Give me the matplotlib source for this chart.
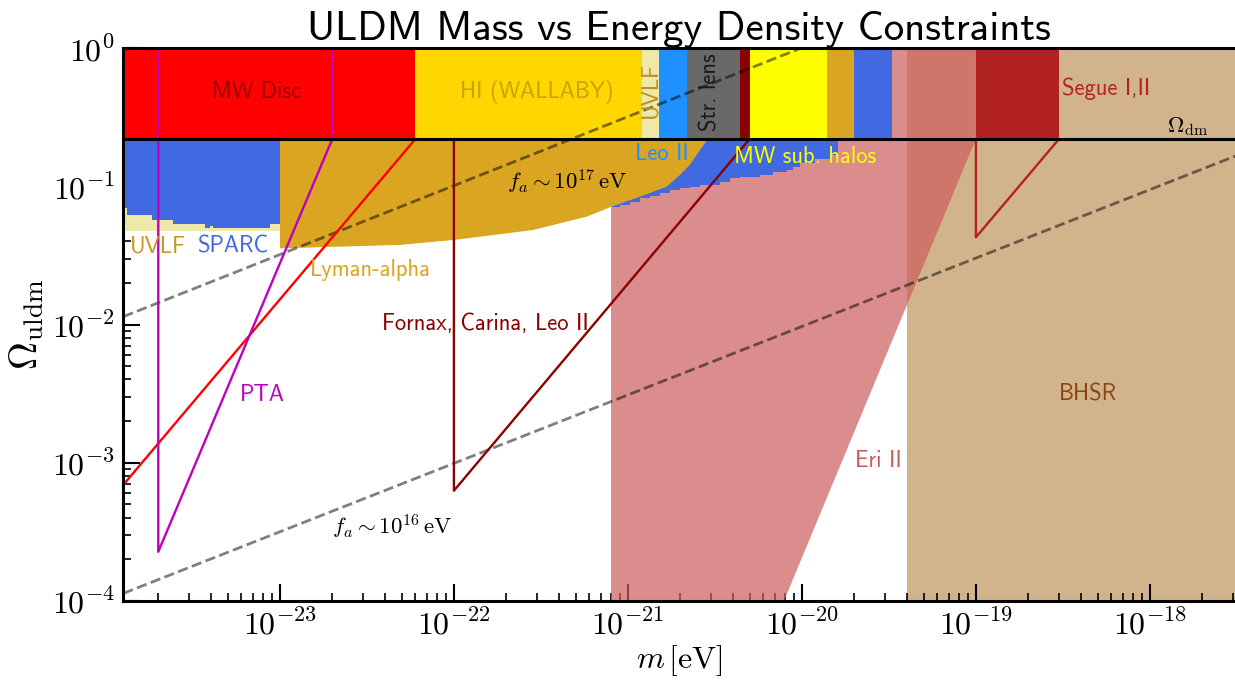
import numpy as np
import matplotlib.pyplot as plt
from matplotlib.ticker import FuncFormatter, FixedLocator, LogLocator, NullFormatter

plt.rcParams['font.family'] = ['cmss10', 'DejaVu Sans']
plt.rcParams['mathtext.fontset'] = 'cm'
plt.rcParams['axes.unicode_minus'] = False
plt.rcParams['axes.formatter.use_mathtext'] = True

m_min, m_max = 10**-23.9, 10**-17.511
om_min, om_max = 1e-4, 1.0
om_dm = 0.22

x_ticks = [1e-23, 1e-22, 1e-21, 1e-20, 1e-19, 1e-18]
y_ticks = [1e-4, 1e-3, 1e-2, 1e-1, 1e0]

# bands above Omega_dm
band_edges = [m_min, 6e-23, 1.2e-21, 1.5e-21, 2.2e-21, 4.4e-21, 5e-21, 1.4e-20, 2.0e-20, 3.3e-20]
band_colors = ['red', 'gold', 'palegoldenrod', 'dodgerblue', 'dimgray', 'darkred',
               'yellow', 'goldenrod', 'royalblue']
segue_band = [1e-19, 3e-19]

# SPARC (staircase) and UVLF below it
sparc_m = [m_min, 1.32e-24, 1.83e-24, 2.44e-24, 3.71e-24, 3.96e-24, 4.12e-24, 8.77e-24, 1e-23]
sparc_om = [0.0693, 0.0621, 0.0571, 0.0535, 0.0499, 0.0519, 0.0498, 0.0532, 0.0532]
uvlf_m = [m_min, 1e-23]
uvlf_om = 0.0478

# Lyman-alpha lower boundary
lya_m = [1e-23, 4.9e-23, 9.9e-23, 2.84e-22, 5.8e-22, 8.05e-22, 1.17e-21, 1.67e-21,
         1.99e-21, 2.27e-21, 2.48e-21, 2.88e-21]
lya_om = [0.0356, 0.0377, 0.0409, 0.0483, 0.0604, 0.0713, 0.0841, 0.0995,
          0.121, 0.143, 0.169, 0.22]

# Leo II / MW sub. halos lower boundary (staircase)
sub_m = [8.05e-22, 8.99e-22, 1.026e-21, 1.17e-21, 1.34e-21, 1.53e-21, 1.74e-21, 1.99e-21,
         2.27e-21, 2.59e-21, 3.38e-21, 3.86e-21, 4.41e-21, 5.74e-21, 6.81e-21, 8.16e-21,
         8.87e-21, 9.75e-21, 1.19e-20, 1.45e-20, 1.61e-20]
sub_om = [0.0713, 0.0733, 0.0774, 0.082, 0.0857, 0.0891, 0.0942, 0.0969,
          0.0995, 0.102, 0.108, 0.1146, 0.1175, 0.121, 0.1265, 0.1315,
          0.139, 0.147, 0.158, 0.169, 0.22]

# Eri II polygon
eri_m = [8e-22, 7.9e-21, 1e-19, 1e-19, 8e-22]
eri_om = [1e-4, 1e-4, 0.22, 1.0, 1.0]

# BHSR
bhsr_m = [4e-20, m_max]

# line constraints
pta_m = [2e-24, 2e-24, 2e-23, 2e-23]
pta_om = [1.0, 2.26e-4, 0.22, 1.0]
disc_m = [m_min, 6e-23]
disc_om = [6.9e-4, 0.22]
fcl_m = [1e-22, 1e-22, 5e-21]
fcl_om = [0.22, 6.26e-4, 0.22]
segue_m = [1e-19, 1e-19, 3e-19]
segue_om = [0.22, 0.0428, 0.22]

# f_a lines
fa17_m = [m_min, 9.8e-21]
fa17_om = [0.0114, 1.0]
fa16_m = [m_min, m_max]
fa16_om = [1.13e-4, 0.1655]

fig = plt.figure(figsize=(12.35, 6.8), dpi=100)
ax = fig.add_axes([123.3 / 1235, 1 - 600.7 / 680, (1235 - 123.3) / 1235, (600.7 - 48.3) / 680])
ax.set_xscale('log')
ax.set_yscale('log')
ax.set_xlim(m_min, m_max)
ax.set_ylim(om_min, om_max)

ax.fill_between(bhsr_m, om_min, om_max, color='tan', lw=0, zorder=1)
ax.fill(eri_m, eri_om, color='indianred', alpha=0.7, lw=0, zorder=2)
ax.fill_between(sub_m, sub_om, om_dm, step='post', color='royalblue', lw=0, zorder=3)
ax.fill([1e-23] + lya_m, [om_dm] + lya_om, color='goldenrod', lw=0, zorder=4)
ax.fill_between(uvlf_m, uvlf_om, om_dm, color='palegoldenrod', lw=0, zorder=4)
ax.fill_between(sparc_m, sparc_om, om_dm, step='post', color='royalblue', lw=0, zorder=5)

for i in range(len(band_colors)):
    ax.fill_between(band_edges[i:i + 2], om_dm, om_max, color=band_colors[i], lw=0, zorder=6)
ax.fill_between(segue_band, om_dm, om_max, color='firebrick', lw=0, zorder=6)

ax.plot(fa17_m, fa17_om, '--', color='k', alpha=0.5, lw=2, zorder=7)
ax.plot(fa16_m, fa16_om, '--', color='k', alpha=0.5, lw=2, zorder=7)

ax.plot(disc_m, disc_om, color='red', lw=1.7, zorder=8)
ax.plot(pta_m, pta_om, color='m', lw=1.7, zorder=8)
ax.plot(fcl_m, fcl_om, color='darkred', lw=1.7, zorder=8)
ax.plot(segue_m, segue_om, color='firebrick', lw=1.7, zorder=8)

ax.axhline(om_dm, color='k', lw=2.2, zorder=9)

fs = 16.3
ax.text(7.3e-24, 0.483, 'MW Disc', color='#990000', fontsize=fs, ha='center', va='center', zorder=10)
ax.text(3.0e-22, 0.483, 'HI (WALLABY)', color='#CDA00A', fontsize=fs, ha='center', va='center', zorder=10)
ax.text(1.34e-21, 0.5, 'UVLF', color='#C09020', fontsize=fs, ha='center', va='center', rotation=90, zorder=10)
ax.text(3.0e-21, 0.48, 'Str. lens', color='#1a1a1a', fontsize=fs, ha='center', va='center', rotation=90, zorder=10)
ax.text(1.57e-21, 0.172, 'Leo II', color='dodgerblue', fontsize=fs, ha='center', va='center', zorder=10)
ax.text(1.04e-20, 0.163, 'MW sub. halos', color='yellow', fontsize=fs, ha='center', va='center', zorder=10)
ax.text(3.12e-19, 0.507, 'Segue I,II', color='firebrick', fontsize=fs, ha='left', va='center', zorder=10)
ax.text(1.65e-18, 0.269, r'$\Omega_{\rm dm}$', color='k', fontsize=fs, ha='center', va='center', zorder=10)
ax.text(1.99e-24, 0.0366, 'UVLF', color='#C8962A', fontsize=fs, ha='center', va='center', zorder=10)
ax.text(5.37e-24, 0.0366, 'SPARC', color='royalblue', fontsize=fs, ha='center', va='center', zorder=10)
ax.text(3.29e-23, 0.0248, 'Lyman-alpha', color='goldenrod', fontsize=fs, ha='center', va='center', zorder=10)
ax.text(1.52e-22, 0.0101, 'Fornax, Carina, Leo II', color='darkred', fontsize=fs, ha='center', va='center', zorder=10)
ax.text(7.98e-24, 3.09e-3, 'PTA', color='m', fontsize=fs, ha='center', va='center', zorder=10)
ax.text(4.4e-19, 3.09e-3, 'BHSR', color='saddlebrown', fontsize=fs, ha='center', va='center', zorder=10)
ax.text(2.74e-20, 1.02e-3, 'Eri II', color='indianred', fontsize=fs, ha='center', va='center', zorder=10)
ax.text(4.46e-22, 0.1076, r'$f_a\sim10^{17}\,\mathrm{eV}$', color='k', fontsize=16.5, ha='center', va='center', zorder=10)
ax.text(4.45e-23, 3.42e-4, r'$f_a\sim10^{16}\,\mathrm{eV}$', color='k', fontsize=16.5, ha='center', va='center', zorder=10)

fmt = FuncFormatter(lambda v, p: r'$10^{%d}$' % int(round(np.log10(v))))
ax.xaxis.set_major_locator(FixedLocator(x_ticks))
ax.yaxis.set_major_locator(FixedLocator(y_ticks))
for axis in (ax.xaxis, ax.yaxis):
    axis.set_minor_locator(LogLocator(base=10, subs=np.arange(2, 10), numticks=20))
    axis.set_major_formatter(fmt)
    axis.set_minor_formatter(NullFormatter())

ax.tick_params(which='both', direction='in', top=False, right=False, labelsize=23)
ax.tick_params(which='major', length=12, width=1.5, pad=6)
ax.tick_params(which='minor', length=6, width=1.2)
for side in ('left', 'bottom', 'top'):
    ax.spines[side].set_linewidth(2.2)
ax.spines['right'].set_visible(False)
for s in ax.spines.values():
    s.set_zorder(11)

ax.set_xlabel(r'$m\,[\mathrm{eV}]$', fontsize=23, labelpad=2)
ax.set_ylabel(r'$\Omega_{\rm uldm}$', fontsize=28, labelpad=4)
ax.set_title('ULDM Mass vs Energy Density Constraints', fontsize=29.5, pad=6)

fig.savefig('out.png', dpi=100)
